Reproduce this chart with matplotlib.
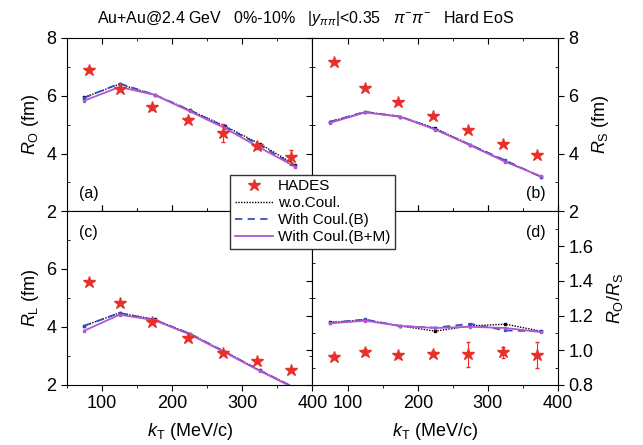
import matplotlib.pyplot as plt
from matplotlib.lines import Line2D
from matplotlib.ticker import MultipleLocator

plt.rcParams['font.family'] = ['Liberation Sans', 'DejaVu Sans']
plt.rcParams['mathtext.fontset'] = 'custom'
plt.rcParams['mathtext.rm'] = 'Liberation Sans'
plt.rcParams['mathtext.it'] = 'Liberation Sans:italic'

# HADES measurement
kt_data = [81, 125, 172, 222, 272, 321, 370]
ro_data = [6.90, 6.23, 5.60, 5.17, 4.71, 4.27, 3.87]
ro_err = [0.08, 0.08, 0.08, 0.08, 0.30, 0.10, 0.25]
rs_data = [7.16, 6.27, 5.77, 5.29, 4.80, 4.33, 3.96]
rs_err = [0.05, 0.05, 0.05, 0.05, 0.05, 0.05, 0.05]
rl_data = [5.54, 4.82, 4.16, 3.61, 3.10, 2.81, 2.52]
rl_err = [0.05, 0.05, 0.05, 0.05, 0.05, 0.05, 0.05]
ratio_data = [0.962, 0.990, 0.971, 0.980, 0.978, 0.988, 0.970]
ratio_err = [0.015, 0.015, 0.015, 0.015, 0.072, 0.030, 0.075]

# UrQMD calculations
kt_model = [75, 125, 175, 225, 275, 325, 375]
ro_noc = [5.94, 6.40, 6.03, 5.50, 4.95, 4.33, 3.62]
ro_b = [5.93, 6.42, 6.03, 5.50, 4.93, 4.29, 3.57]
ro_bm = [5.83, 6.30, 6.03, 5.46, 4.88, 4.20, 3.55]
rs_noc = [5.10, 5.44, 5.28, 4.87, 4.30, 3.74, 3.20]
rs_b = [5.10, 5.44, 5.28, 4.84, 4.30, 3.76, 3.20]
rs_bm = [5.06, 5.42, 5.27, 4.83, 4.28, 3.71, 3.22]
rl_noc = [4.04, 4.48, 4.26, 3.76, 3.15, 2.50, 1.90]
rl_b = [4.04, 4.48, 4.24, 3.77, 3.14, 2.50, 1.90]
rl_bm = [3.87, 4.42, 4.23, 3.74, 3.12, 2.48, 1.88]
ratio_noc = [1.160, 1.175, 1.140, 1.110, 1.140, 1.150, 1.110]
ratio_b = [1.158, 1.177, 1.139, 1.130, 1.152, 1.114, 1.109]
ratio_bm = [1.155, 1.170, 1.140, 1.128, 1.135, 1.128, 1.105]

red = '#e8302a'
blue = '#2f50c0'
violet = '#b555d0'
dotted = (0, (1, 1))
dashed = (0, (4, 3))

fig, axes = plt.subplots(2, 2, figsize=(6.43, 4.45), dpi=100)
fig.subplots_adjust(left=0.104, right=0.868, top=0.915, bottom=0.135,
                    hspace=0, wspace=0)
(ax_a, ax_b), (ax_c, ax_d) = axes

panels = [
    (ax_a, ro_data, ro_err, ro_noc, ro_b, ro_bm, '(a)'),
    (ax_b, rs_data, rs_err, rs_noc, rs_b, rs_bm, '(b)'),
    (ax_c, rl_data, rl_err, rl_noc, rl_b, rl_bm, '(c)'),
    (ax_d, ratio_data, ratio_err, ratio_noc, ratio_b, ratio_bm, '(d)'),
]

for ax, data, err, noc, cb, cbm, tag in panels:
    ax.plot(kt_model, noc, ls=dotted, color='black', lw=1.0,
            marker='s', ms=1.5)
    ax.plot(kt_model, cb, ls=dashed, color=blue, lw=1.3,
            marker='s', ms=1.5)
    ax.plot(kt_model, cbm, ls='-', color=violet, lw=1.3,
            marker='s', ms=1.5)
    ax.errorbar(kt_data, data, yerr=err, fmt='*', color=red, ms=9,
                ecolor=red, elinewidth=0.8, capsize=1.5, zorder=5)
    ax.set_xlim(50, 400)
    ax.xaxis.set_major_locator(MultipleLocator(100))
    ax.xaxis.set_minor_locator(MultipleLocator(50))
    ax.tick_params(which='both', labelsize=13, top=True, right=True,
                   direction='in')
    ax.tick_params(which='major', length=4)
    ax.tick_params(which='minor', length=2.5)
    left_col = ax in (ax_a, ax_c)
    top_row = ax in (ax_a, ax_b)
    ax.text(0.05 if left_col else 0.95, 0.06 if top_row else 0.92,
            tag, transform=ax.transAxes, fontsize=11.5,
            ha='left' if left_col else 'right',
            va='bottom' if top_row else 'top')

for ax in (ax_a, ax_b, ax_c):
    ax.set_ylim(2, 8)
    ax.yaxis.set_major_locator(MultipleLocator(2))
    ax.yaxis.set_minor_locator(MultipleLocator(1))
ax_c.set_ylim(2, 7.98)

ax_d.set_ylim(0.8, 1.8)
ax_d.set_yticks([0.8, 1.0, 1.2, 1.4, 1.6])
ax_d.yaxis.set_minor_locator(MultipleLocator(0.1))

for ax in (ax_a, ax_b):
    ax.tick_params(labelbottom=False)
for ax in (ax_c, ax_d):
    ax.tick_params(axis='x', which='both', direction='out', bottom=True)
    ax.set_xlabel(r'$k_{\rm T}$ (MeV/c)', fontsize=13, labelpad=6)
ax_d.set_xticks([100, 200, 300, 400])

for ax in (ax_a, ax_c):
    ax.tick_params(axis='y', which='major', direction='out')
for ax in (ax_b, ax_d):
    ax.yaxis.tick_right()
    ax.yaxis.set_label_position('right')
    ax.tick_params(axis='y', which='both', left=True, labelleft=False)
    ax.tick_params(axis='y', which='major', direction='out')

ax_a.set_ylabel(r'$R_{\rm O}$ (fm)', fontsize=13)
ax_c.set_ylabel(r'$R_{\rm L}$ (fm)', fontsize=13)
ax_b.set_ylabel(r'$R_{\rm S}$ (fm)', fontsize=13, labelpad=8)
ax_d.set_ylabel(r'$R_{\rm O}/R_{\rm S}$', fontsize=13, labelpad=8)

# legend entries without point markers
handles = [
    Line2D([], [], ls='none', marker='*', color=red, ms=9),
    Line2D([], [], ls=dotted, color='black', lw=1.0),
    Line2D([], [], ls=dashed, color=blue, lw=1.3),
    Line2D([], [], ls='-', color=violet, lw=1.3),
]
labels = ['HADES', 'w.o.Coul.', 'With Coul.(B)', 'With Coul.(B+M)']
fig.legend(handles, labels,
           loc='center', bbox_to_anchor=(0.486, 0.524), fontsize=11,
           frameon=True, fancybox=False, edgecolor='#333333',
           framealpha=1, handlelength=2.5, borderpad=0.3,
           labelspacing=0.2, handletextpad=0.3, borderaxespad=0)

fig.text(0.475, 0.958,
         r'Au+Au@2.4 GeV   0%-10%   |$y_{\pi\pi}$|<0.35   $\pi^{-}\pi^{-}$   Hard EoS',
         ha='center', va='center', fontsize=11.5)

fig.savefig('out.png', dpi=100, facecolor='white')
